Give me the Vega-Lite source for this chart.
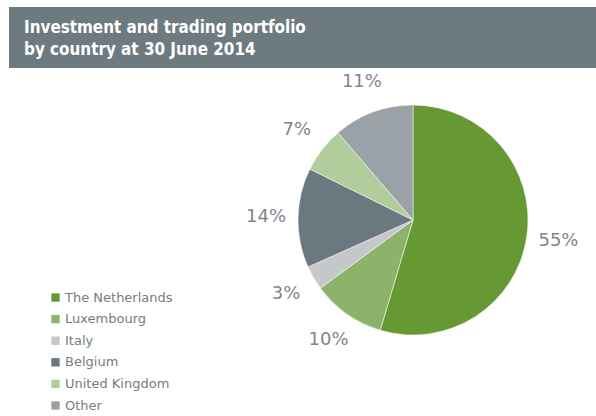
{
  "$schema": "https://vega.github.io/schema/vega-lite/v6.json",
  "padding": {"left": 9, "top": 7, "right": 0, "bottom": 0},
  "bounds": "flush",
  "spacing": 0,
  "config": {"view": {"stroke": null}},
  "vconcat": [
    {
      "width": 587,
      "height": 61,
      "view": {"fill": "#6d7a80", "stroke": null},
      "title": {
        "text": ["Investment and trading portfolio", "by country at 30 June 2014"],
        "orient": "top",
        "anchor": "start",
        "frame": "group",
        "offset": -52,
        "dx": 15,
        "font": "DejaVu Sans Condensed",
        "fontSize": 16.9,
        "fontWeight": "bold",
        "color": "#ffffff",
        "lineHeight": 22
      },
      "data": {"values": []},
      "mark": "rect",
      "encoding": {}
    },
    {
      "bounds": "flush",
      "spacing": 0,
      "hconcat": [
        {
          "width": 221,
          "height": 304,
          "data": {"values": []},
          "mark": "rect",
          "encoding": {}
        },
        {
          "width": 366,
          "height": 304,
          "data": {
            "values": [
              {"country": "The Netherlands", "share": 54.6, "label": "55%", "order": 1},
              {"country": "Luxembourg", "share": 10.3, "label": "10%", "order": 2},
              {"country": "Italy", "share": 3.4, "label": "3%", "order": 3},
              {"country": "Belgium", "share": 14.0, "label": "14%", "order": 4},
              {"country": "United Kingdom", "share": 6.4, "label": "7%", "order": 5},
              {"country": "Other", "share": 11.3, "label": "11%", "order": 6}
            ]
          },
          "encoding": {
            "theta": {"field": "share", "type": "quantitative", "stack": true},
            "order": {"field": "order", "type": "quantitative"}
          },
          "layer": [
            {
              "mark": {"type": "arc", "radius": 115, "stroke": "#ffffff", "strokeWidth": 0.5},
              "encoding": {
                "color": {
                  "field": "country",
                  "type": "nominal",
                  "scale": {
                    "domain": ["The Netherlands", "Luxembourg", "Italy", "Belgium", "United Kingdom", "Other"],
                    "range": ["#669933", "#8db36a", "#c4c8cb", "#6b7880", "#b1cd9b", "#9aa1a7"]
                  },
                  "legend": {
                    "title": null,
                    "orient": "none",
                    "legendX": 40,
                    "legendY": 284,
                    "padding": 0,
                    "symbolType": "square",
                    "symbolSize": 70,
                    "symbolStrokeWidth": 0,
                    "symbolOpacity": 1,
                    "labelFont": "DejaVu Sans",
                    "labelFontSize": 13,
                    "labelColor": "#747d83",
                    "labelOffset": 3,
                    "rowPadding": 7.6
                  }
                }
              }
            },
            {
              "mark": {"type": "text", "radius": 147, "font": "DejaVu Sans", "fontSize": 18, "color": "#7d868c", "align": "center", "baseline": "middle"},
              "encoding": {
                "text": {"field": "label", "type": "nominal"}
              }
            }
          ]
        }
      ]
    }
  ]
}
